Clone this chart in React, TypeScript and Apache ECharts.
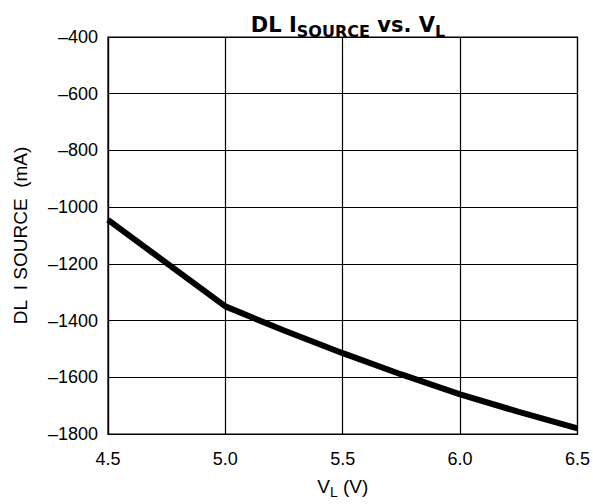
import React, { useEffect, useRef } from "react";
import * as echarts from "echarts";

const xValues = [4.5, 5.0, 5.25, 5.5, 5.75, 6.0, 6.25, 6.5];
const ySource = [-1045, -1350, -1435, -1515, -1590, -1660, -1722, -1780];
const xTicks = { min: 4.5, max: 6.5, interval: 0.5 };
const yTicks = { min: -1800, max: -400, interval: 200 };

const FONT = "Liberation Sans, Arial, Helvetica, sans-serif";
const TITLE_FONT = "DejaVu Sans, Liberation Sans, sans-serif";

export default function App() {
  const ref = useRef<HTMLDivElement>(null);
  useEffect(() => {
    if (!ref.current) return;
    const chart = echarts.init(ref.current, undefined, { renderer: "svg" });
    chart.setOption({
      animation: false,
      backgroundColor: "#fff",
      title: {
        text: "{a|DL I}{b|SOURCE}{a| vs. V}{b|L}",
        left: 343,
        textAlign: "center",
        top: 2,
        textStyle: {
          rich: {
            a: { fontFamily: TITLE_FONT, fontWeight: 900, fontSize: 21, color: "#000", lineHeight: 28, verticalAlign: "bottom" },
            b: { fontFamily: TITLE_FONT, fontWeight: 900, fontSize: 16, color: "#000", lineHeight: 28, verticalAlign: "bottom", padding: [0, 0, -4, 0] },
          },
        },
      },
      grid: { left: 108, right: 15, top: 37, bottom: 66, show: true, borderColor: "#000", borderWidth: 1.2, backgroundColor: "transparent" },
      xAxis: {
        type: "value",
        min: xTicks.min,
        max: xTicks.max,
        interval: xTicks.interval,
        name: "{m|V}{s|L}{m| (V)}",
        nameLocation: "middle",
        nameGap: 40,
        nameTextStyle: {
          rich: {
            m: { fontFamily: FONT, fontSize: 19, color: "#000", lineHeight: 22, verticalAlign: "bottom" },
            s: { fontFamily: FONT, fontSize: 14, color: "#000", lineHeight: 22, verticalAlign: "bottom", padding: [0, 0, -3, 0] },
          },
        },
        axisLine: { show: true, lineStyle: { color: "#000", width: 1.2 } },
        axisTick: { show: false },
        axisLabel: { color: "#000", fontFamily: FONT, fontSize: 18, margin: 16, formatter: (v: number) => v.toFixed(1) },
        splitLine: { show: true, lineStyle: { color: "#000", width: 1.2 } },
      },
      yAxis: {
        type: "value",
        min: yTicks.min,
        max: yTicks.max,
        interval: yTicks.interval,
        name: "DL  I SOURCE  (mA)",
        nameLocation: "middle",
        nameGap: 78,
        nameTextStyle: { fontFamily: FONT, fontSize: 19, color: "#000" },
        axisLine: { show: true, lineStyle: { color: "#000", width: 1.2 } },
        axisTick: { show: false },
        axisLabel: {
          color: "#000",
          fontFamily: FONT,
          fontSize: 18,
          margin: 10,
          formatter: (v: number) => String(v).replace("-", "\u2013"),
        },
        splitLine: { show: true, lineStyle: { color: "#000", width: 1.2 } },
      },
      series: [
        {
          type: "line",
          data: xValues.map((x, i) => [x, ySource[i]]),
          showSymbol: false,
          symbol: "none",
          lineStyle: { color: "#000", width: 6 },
          smooth: false,
        },
      ],
    });
    return () => chart.dispose();
  }, []);
  return <div ref={ref} style={{ position: "absolute", left: 0, top: 0, width: 593, height: 504 }} />;
}
